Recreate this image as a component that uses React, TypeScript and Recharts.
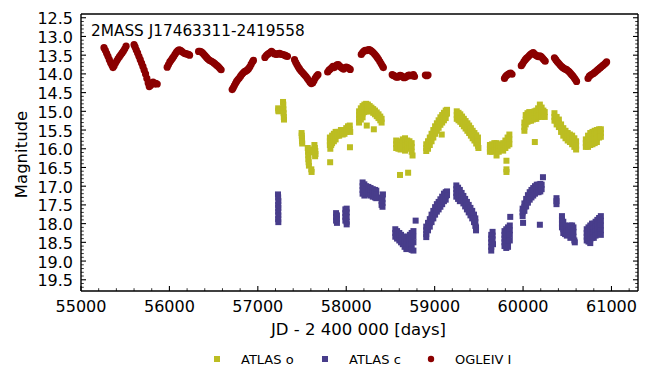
import { Label, Scatter, ScatterChart, XAxis, YAxis } from "recharts";

// axis ranges and ticks (JD - 2400000, magnitude)
const X_DOMAIN: [number, number] = [55000, 61300];
const Y_DOMAIN: [number, number] = [12.4, 19.8];
const X_MAJOR = [55000, 56000, 57000, 58000, 59000, 60000, 61000];
const X_MINOR = [
  55200, 55400, 55600, 55800, 56200, 56400, 56600, 56800, 57200, 57400, 57600, 57800, 58200,
  58400, 58600, 58800, 59200, 59400, 59600, 59800, 60200, 60400, 60600, 60800, 61200,
];
const Y_MAJOR = [12.5, 13, 13.5, 14, 14.5, 15, 15.5, 16, 16.5, 17, 17.5, 18, 18.5, 19, 19.5];
const Y_MINOR = [
  12.6, 12.7, 12.8, 12.9, 13.1, 13.2, 13.3, 13.4, 13.6, 13.7, 13.8, 13.9, 14.1, 14.2, 14.3, 14.4,
  14.6, 14.7, 14.8, 14.9, 15.1, 15.2, 15.3, 15.4, 15.6, 15.7, 15.8, 15.9, 16.1, 16.2, 16.3, 16.4,
  16.6, 16.7, 16.8, 16.9, 17.1, 17.2, 17.3, 17.4, 17.6, 17.7, 17.8, 17.9, 18.1, 18.2, 18.3, 18.4,
  18.6, 18.7, 18.8, 18.9, 19.1, 19.2, 19.3, 19.4, 19.6, 19.7,
];

// OGLE-IV I band, [jd, mag]
const OGLE_I: [number, number][] = [
  [55260, 13.3], [55275, 13.37], [55290, 13.45], [55305, 13.53], [55320, 13.62], [55335, 13.7],
  [55350, 13.77], [55362, 13.83], [55375, 13.78], [55390, 13.71], [55405, 13.65], [55420, 13.59],
  [55435, 13.54], [55450, 13.49], [55465, 13.44], [55480, 13.39], [55495, 13.33], [55510, 13.26],
  [55600, 13.22], [55612, 13.28], [55625, 13.36], [55640, 13.44], [55655, 13.53], [55670, 13.62],
  [55685, 13.71], [55700, 13.8], [55715, 13.9], [55730, 14.0], [55745, 14.12], [55760, 14.24],
  [55772, 14.34], [55785, 14.31], [55800, 14.24], [55815, 14.22], [55830, 14.27], [55845, 14.25],
  [55862, 14.27],
  [55975, 13.82], [55990, 13.75], [56005, 13.68], [56020, 13.63], [56035, 13.58], [56050, 13.53],
  [56065, 13.47], [56080, 13.42], [56095, 13.38], [56110, 13.36], [56125, 13.37], [56140, 13.4],
  [56155, 13.43], [56170, 13.45], [56185, 13.46], [56200, 13.47], [56215, 13.48], [56228, 13.5],
  [56330, 13.4], [56345, 13.4], [56360, 13.41], [56375, 13.44], [56390, 13.48], [56405, 13.52],
  [56420, 13.56], [56435, 13.6], [56450, 13.63], [56465, 13.65], [56480, 13.67], [56495, 13.69],
  [56510, 13.72], [56525, 13.75], [56540, 13.78], [56555, 13.81], [56570, 13.85], [56585, 13.89],
  [56710, 14.42], [56722, 14.37], [56735, 14.31], [56748, 14.25], [56760, 14.2], [56775, 14.15],
  [56790, 14.11], [56805, 14.06], [56820, 14.01], [56835, 13.97], [56850, 13.94], [56865, 13.92],
  [56880, 13.9], [56895, 13.86], [56910, 13.81], [56925, 13.74], [56940, 13.68], [56950, 13.64],
  [57080, 13.56], [57095, 13.51], [57110, 13.48], [57125, 13.45], [57140, 13.43], [57155, 13.4],
  [57170, 13.43], [57185, 13.46], [57200, 13.47], [57215, 13.48], [57230, 13.46], [57245, 13.45],
  [57260, 13.47], [57275, 13.48], [57290, 13.49], [57305, 13.5], [57320, 13.52], [57335, 13.53],
  [57415, 13.62], [57428, 13.69], [57442, 13.75], [57456, 13.81], [57470, 13.86], [57485, 13.91],
  [57500, 13.95], [57515, 13.99], [57530, 14.03], [57545, 14.07], [57560, 14.12], [57575, 14.17],
  [57590, 14.22], [57605, 14.26], [57620, 14.24], [57635, 14.18], [57650, 14.11], [57665, 14.06],
  [57680, 14.02],
  [57790, 13.95], [57805, 13.9], [57820, 13.87], [57835, 13.84], [57850, 13.8], [57865, 13.83],
  [57880, 13.79], [57895, 13.76], [57910, 13.75], [57925, 13.79], [57940, 13.82], [57955, 13.85],
  [57970, 13.87], [57985, 13.84], [58000, 13.82], [58015, 13.83], [58030, 13.85], [58045, 13.88],
  [58170, 13.48], [58185, 13.43], [58200, 13.39], [58215, 13.37], [58230, 13.38], [58245, 13.36],
  [58260, 13.35], [58275, 13.37], [58290, 13.4], [58305, 13.43], [58320, 13.47], [58335, 13.51],
  [58350, 13.56], [58365, 13.61], [58380, 13.67], [58395, 13.73], [58410, 13.79], [58420, 13.83],
  [58520, 14.02], [58535, 14.04], [58550, 14.06], [58565, 14.08], [58580, 14.09], [58595, 14.06],
  [58610, 14.04], [58625, 14.05], [58640, 14.08], [58655, 14.1], [58670, 14.09], [58685, 14.07],
  [58700, 14.04], [58715, 14.03], [58730, 14.05], [58745, 14.04], [58760, 14.02], [58772, 14.07],
  [58895, 14.03], [58910, 14.05], [58925, 14.03],
  [59790, 14.12], [59802, 14.07], [59815, 14.04], [59830, 14.01], [59845, 13.99], [59860, 13.98],
  [59875, 14.01],
  [59980, 13.78], [59995, 13.73], [60010, 13.67], [60025, 13.62], [60040, 13.58], [60055, 13.55],
  [60070, 13.51], [60085, 13.48], [60100, 13.45], [60115, 13.43], [60130, 13.47], [60145, 13.5],
  [60160, 13.52], [60175, 13.54], [60190, 13.52], [60205, 13.54], [60220, 13.58], [60235, 13.62],
  [60250, 13.66],
  [60355, 13.57], [60370, 13.62], [60385, 13.67], [60400, 13.71], [60415, 13.75], [60430, 13.79],
  [60445, 13.82], [60460, 13.85], [60475, 13.87], [60490, 13.88], [60505, 13.91], [60520, 13.94],
  [60535, 13.98], [60550, 14.02], [60565, 14.06], [60580, 14.11], [60592, 14.15], [60605, 14.2],
  [60735, 14.12], [60750, 14.06], [60765, 14.03], [60780, 14.01], [60795, 13.99], [60810, 13.96],
  [60825, 13.93], [60840, 13.9], [60855, 13.87], [60870, 13.84], [60885, 13.81], [60900, 13.78],
  [60915, 13.75], [60930, 13.72], [60945, 13.68],
];

// ATLAS orange filter, [jd, mag]
const ATLAS_O: [number, number][] = [
  [57230, 14.92], [57232, 14.98], [57236, 15.0], [57285, 14.75], [57288, 14.82], [57290, 14.95],
  [57292, 15.05], [57294, 15.15], [57296, 15.22],
  [57495, 15.58], [57497, 15.65], [57499, 15.72], [57500, 15.8], [57502, 15.86],
  [57565, 15.98], [57568, 16.08], [57570, 16.18], [57572, 16.28], [57575, 16.36], [57578, 16.45],
  [57605, 16.55], [57608, 16.62], [57600, 16.02], [57640, 15.9], [57645, 15.98], [57650, 16.06],
  [57652, 16.14], [57648, 16.2], [57630, 16.1],
  [57815, 15.7], [57815, 15.8], [57815, 15.9], [57820, 16.0], [57840, 15.65], [57840, 15.75],
  [57840, 15.85], [57860, 15.6], [57860, 15.7], [57860, 15.8], [57880, 15.55], [57880, 15.65],
  [57880, 15.75], [57900, 15.55], [57900, 15.65], [57920, 15.55], [57920, 15.65], [57940, 15.6],
  [57940, 15.5], [57960, 15.52], [57960, 15.62], [57980, 15.5], [57980, 15.6], [58000, 15.45],
  [58000, 15.55], [58020, 15.4], [58020, 15.5], [58040, 15.38], [58040, 15.48], [58045, 15.55],
  [57818, 16.36], [58042, 15.96], [57830, 15.9],
  [58145, 15.0], [58145, 15.1], [58145, 15.2], [58145, 15.3], [58165, 14.92], [58165, 15.02],
  [58165, 15.12], [58165, 15.22], [58185, 14.86], [58185, 14.96], [58185, 15.06], [58185, 15.16],
  [58205, 14.82], [58205, 14.92], [58205, 15.02], [58225, 14.8], [58225, 14.9], [58225, 15.0],
  [58245, 14.82], [58245, 14.92], [58245, 15.0], [58265, 14.86], [58265, 14.96], [58285, 14.9],
  [58285, 15.0], [58305, 14.94], [58305, 15.04], [58325, 14.98], [58325, 15.08], [58345, 15.03],
  [58345, 15.13], [58365, 15.08], [58365, 15.18], [58385, 15.14], [58385, 15.24], [58400, 15.2],
  [58400, 15.3], [58232, 15.38], [58312, 15.48],
  [58565, 15.78], [58565, 15.88], [58565, 15.98], [58590, 15.8], [58590, 15.9], [58590, 16.0],
  [58615, 15.82], [58615, 15.92], [58615, 16.02], [58640, 15.75], [58640, 15.85], [58640, 15.95],
  [58665, 15.72], [58665, 15.82], [58665, 15.92], [58665, 16.05], [58690, 15.78], [58690, 15.88],
  [58690, 15.98], [58715, 15.8], [58715, 15.9], [58715, 16.0], [58740, 15.85], [58740, 15.95],
  [58740, 16.08], [58750, 16.18], [58608, 16.7], [58700, 16.64],
  [58905, 15.88], [58905, 15.98], [58905, 16.06], [58925, 15.8], [58925, 15.9], [58925, 16.0],
  [58945, 15.7], [58945, 15.8], [58945, 15.9], [58965, 15.6], [58965, 15.7], [58965, 15.8],
  [58985, 15.5], [58985, 15.6], [58985, 15.7], [59005, 15.4], [59005, 15.5], [59005, 15.6],
  [59025, 15.32], [59025, 15.42], [59025, 15.52], [59045, 15.24], [59045, 15.34], [59045, 15.44],
  [59065, 15.16], [59065, 15.26], [59065, 15.36], [59085, 15.1], [59085, 15.2], [59085, 15.3],
  [59105, 15.04], [59105, 15.14], [59105, 15.24], [59125, 14.98], [59125, 15.08], [59125, 15.18],
  [59140, 14.96], [59140, 15.06], [59080, 15.62],
  [59250, 15.0], [59250, 15.1], [59250, 15.2], [59270, 15.04], [59270, 15.14], [59270, 15.24],
  [59290, 15.08], [59290, 15.18], [59290, 15.28], [59310, 15.14], [59310, 15.24], [59310, 15.34],
  [59330, 15.2], [59330, 15.3], [59330, 15.4], [59350, 15.26], [59350, 15.36], [59350, 15.46],
  [59370, 15.32], [59370, 15.42], [59370, 15.52], [59390, 15.38], [59390, 15.48], [59390, 15.58],
  [59410, 15.45], [59410, 15.55], [59410, 15.65], [59430, 15.52], [59430, 15.62], [59430, 15.72],
  [59450, 15.58], [59450, 15.68], [59450, 15.78], [59470, 15.64], [59470, 15.74], [59470, 15.86],
  [59490, 15.7], [59490, 15.8], [59490, 15.92], [59495, 15.98],
  [59625, 15.9], [59625, 16.0], [59625, 16.08], [59650, 15.88], [59650, 15.98], [59650, 16.08],
  [59675, 15.85], [59675, 15.95], [59675, 16.05], [59700, 15.85], [59700, 15.95], [59700, 16.05],
  [59700, 16.18], [59725, 15.88], [59725, 15.98], [59725, 16.08], [59750, 15.9], [59750, 16.0],
  [59775, 15.85], [59775, 15.95], [59775, 16.05], [59800, 15.78], [59800, 15.88], [59800, 15.98],
  [59825, 15.7], [59825, 15.8], [59825, 15.92], [59845, 15.62], [59845, 15.75], [59845, 15.88],
  [59812, 16.32], [59812, 16.55], [59812, 16.62],
  [60015, 15.3], [60015, 15.42], [60015, 15.52], [60030, 15.1], [60030, 15.22], [60030, 15.35],
  [60050, 15.05], [60050, 15.15], [60050, 15.28], [60070, 15.02], [60070, 15.12], [60070, 15.25],
  [60090, 15.05], [60090, 15.15], [60090, 15.25], [60110, 15.02], [60110, 15.12], [60110, 15.22],
  [60130, 15.0], [60130, 15.1], [60130, 15.2], [60150, 14.98], [60150, 15.08], [60150, 15.2],
  [60170, 14.92], [60170, 15.02], [60170, 15.15], [60190, 14.82], [60190, 14.95], [60190, 15.1],
  [60210, 14.9], [60210, 15.02], [60210, 15.15], [60230, 14.98], [60230, 15.1], [60245, 15.02],
  [60245, 15.15], [60133, 15.82],
  [60355, 15.05], [60355, 15.15], [60355, 15.25], [60380, 15.15], [60380, 15.25], [60380, 15.35],
  [60405, 15.22], [60405, 15.32], [60405, 15.42], [60430, 15.35], [60430, 15.45], [60430, 15.55],
  [60455, 15.45], [60455, 15.55], [60455, 15.65], [60480, 15.52], [60480, 15.62], [60480, 15.72],
  [60505, 15.58], [60505, 15.68], [60505, 15.78], [60530, 15.62], [60530, 15.72], [60530, 15.82],
  [60555, 15.65], [60555, 15.75], [60555, 15.88], [60580, 15.72], [60580, 15.85], [60580, 15.95],
  [60600, 15.8], [60600, 15.92], [60600, 16.02],
  [60710, 15.75], [60710, 15.85], [60710, 15.95], [60735, 15.65], [60735, 15.75], [60735, 15.85],
  [60735, 15.95], [60760, 15.58], [60760, 15.68], [60760, 15.78], [60760, 15.9], [60785, 15.55],
  [60785, 15.65], [60785, 15.75], [60785, 15.88], [60810, 15.52], [60810, 15.62], [60810, 15.72],
  [60810, 15.85], [60835, 15.5], [60835, 15.6], [60835, 15.72], [60835, 15.82], [60860, 15.48],
  [60860, 15.58], [60860, 15.7], [60880, 15.48], [60880, 15.58], [60880, 15.68],
];

// ATLAS cyan filter, [jd, mag]
const ATLAS_C: [number, number][] = [
  [57228, 17.22], [57230, 17.3], [57232, 17.4], [57230, 17.5], [57232, 17.58], [57230, 17.68],
  [57232, 17.78], [57230, 17.88], [57232, 17.96],
  [57885, 17.72], [57885, 17.82], [57885, 17.92], [57895, 17.78], [57895, 17.88], [57895, 17.98],
  [57990, 17.62], [57990, 17.72], [57990, 17.82], [57990, 17.92], [58005, 17.6], [58005, 17.7],
  [58005, 17.82], [58005, 17.95], [58005, 18.02],
  [58185, 16.9], [58185, 17.0], [58185, 17.1], [58185, 17.2], [58205, 16.95], [58205, 17.05],
  [58205, 17.15], [58205, 17.25], [58225, 17.0], [58225, 17.1], [58225, 17.2], [58250, 17.02],
  [58250, 17.12], [58250, 17.22], [58275, 17.05], [58275, 17.15], [58275, 17.25], [58300, 17.08],
  [58300, 17.18], [58300, 17.28], [58325, 17.1], [58325, 17.2], [58325, 17.3], [58340, 17.12],
  [58340, 17.22], [58340, 17.32], [58400, 17.3], [58400, 17.4], [58400, 17.5], [58410, 17.35],
  [58410, 17.45], [58410, 17.55], [58415, 17.22],
  [58555, 18.15], [58555, 18.25], [58555, 18.35], [58575, 18.2], [58575, 18.3], [58575, 18.4],
  [58600, 18.25], [58600, 18.35], [58600, 18.45], [58620, 18.3], [58620, 18.4], [58620, 18.5],
  [58640, 18.35], [58640, 18.45], [58640, 18.55], [58660, 18.35], [58660, 18.5], [58660, 18.62],
  [58680, 18.4], [58680, 18.55], [58680, 18.68], [58700, 18.35], [58700, 18.48], [58700, 18.6],
  [58720, 18.3], [58720, 18.42], [58720, 18.55], [58740, 18.25], [58740, 18.4], [58740, 18.55],
  [58740, 18.7], [58760, 18.2], [58760, 18.35], [58760, 18.5], [58760, 18.72], [58785, 17.92],
  [58905, 18.08], [58905, 18.18], [58905, 18.28], [58905, 18.36], [58925, 17.98], [58925, 18.08],
  [58925, 18.18], [58945, 17.88], [58945, 17.98], [58945, 18.08], [58965, 17.76], [58965, 17.86],
  [58965, 17.96], [58985, 17.66], [58985, 17.76], [58985, 17.86], [59005, 17.56], [59005, 17.66],
  [59005, 17.76], [59025, 17.48], [59025, 17.58], [59025, 17.68], [59045, 17.42], [59045, 17.52],
  [59045, 17.62], [59065, 17.35], [59065, 17.45], [59065, 17.55], [59085, 17.28], [59085, 17.38],
  [59085, 17.48], [59105, 17.2], [59105, 17.3], [59105, 17.4], [59125, 17.16], [59125, 17.26],
  [59125, 17.36], [59140, 17.14], [59140, 17.24],
  [59245, 16.98], [59245, 17.08], [59245, 17.18], [59245, 17.28], [59265, 17.04], [59265, 17.14],
  [59265, 17.24], [59265, 17.34], [59285, 17.1], [59285, 17.2], [59285, 17.3], [59285, 17.4],
  [59305, 17.18], [59305, 17.28], [59305, 17.38], [59325, 17.26], [59325, 17.36], [59325, 17.46],
  [59345, 17.34], [59345, 17.44], [59345, 17.54], [59365, 17.42], [59365, 17.52], [59365, 17.62],
  [59385, 17.5], [59385, 17.6], [59385, 17.7], [59405, 17.58], [59405, 17.68], [59405, 17.78],
  [59425, 17.66], [59425, 17.76], [59425, 17.86], [59445, 17.76], [59445, 17.86], [59445, 17.96],
  [59460, 17.86], [59460, 17.96], [59460, 18.06], [59468, 18.1], [59468, 18.18],
  [59640, 18.3], [59640, 18.4], [59640, 18.5], [59640, 18.62], [59640, 18.72], [59655, 18.22],
  [59655, 18.32], [59655, 18.42], [59660, 18.55],
  [59790, 18.2], [59790, 18.3], [59790, 18.4], [59790, 18.5], [59790, 18.6], [59810, 18.15],
  [59810, 18.28], [59810, 18.4], [59810, 18.52], [59810, 18.65], [59830, 18.1], [59830, 18.22],
  [59830, 18.35], [59830, 18.48], [59830, 18.62], [59850, 18.05], [59850, 18.18], [59850, 18.3],
  [59850, 18.45], [59855, 17.82],
  [59995, 17.6], [59995, 17.7], [59995, 17.8], [60000, 17.98], [60015, 17.46], [60015, 17.56],
  [60015, 17.66], [60035, 17.34], [60035, 17.44], [60035, 17.54], [60055, 17.24], [60055, 17.34],
  [60055, 17.44], [60075, 17.16], [60075, 17.26], [60075, 17.36], [60095, 17.1], [60095, 17.2],
  [60095, 17.3], [60115, 17.05], [60115, 17.15], [60115, 17.25], [60135, 17.0], [60135, 17.1],
  [60135, 17.2], [60155, 16.96], [60155, 17.06], [60155, 17.16], [60175, 16.96], [60175, 17.06],
  [60175, 17.16], [60195, 16.94], [60195, 17.04], [60195, 17.14], [60210, 16.96], [60210, 17.08],
  [60225, 16.76], [60190, 18.03],
  [60378, 17.32], [60378, 17.4], [60378, 17.48],
  [60440, 17.8], [60440, 17.9], [60440, 18.0], [60440, 18.1], [60455, 17.95], [60455, 18.05],
  [60455, 18.15], [60455, 18.25], [60475, 18.05], [60475, 18.15], [60475, 18.28], [60495, 18.1],
  [60495, 18.2], [60495, 18.32], [60515, 18.08], [60515, 18.18], [60515, 18.28], [60535, 18.05],
  [60535, 18.15], [60535, 18.25], [60535, 18.38], [60555, 18.05], [60555, 18.15], [60555, 18.28],
  [60570, 18.1], [60570, 18.22], [60570, 18.35], [60580, 18.45], [60585, 18.5],
  [60720, 18.15], [60720, 18.25], [60720, 18.35], [60720, 18.45], [60740, 18.1], [60740, 18.22],
  [60740, 18.35], [60740, 18.48], [60760, 18.05], [60760, 18.18], [60760, 18.3], [60760, 18.42],
  [60760, 18.52], [60780, 18.0], [60780, 18.12], [60780, 18.25], [60780, 18.38], [60800, 18.0],
  [60800, 18.12], [60800, 18.25], [60800, 18.38], [60820, 17.95], [60820, 18.08], [60820, 18.2],
  [60820, 18.32], [60840, 17.9], [60840, 18.02], [60840, 18.15], [60840, 18.28], [60860, 17.85],
  [60860, 17.98], [60860, 18.1], [60860, 18.25], [60880, 17.8], [60880, 17.92], [60880, 18.05],
  [60880, 18.18], [60880, 18.3],
];

const OLIVE = "#bcbd22";
const SLATE = "#483d8b";
const DARKRED = "#8b0000";
const FONT = "'DejaVu Sans', sans-serif";

const toPoints = (rows: [number, number][]) => rows.map(([x, y]) => ({ x, y }));

type Side = "bottom" | "top" | "left" | "right";

/** matplotlib-style inward tick, with a label only on bottom/left majors. */
function InTick(props: any) {
  const { x, y, payload, side, majors } = props as {
    x: number;
    y: number;
    payload: { value: number };
    side: Side;
    majors: number[];
  };
  const major = majors.includes(payload.value);
  const len = major ? 5 : 2.8;
  const sw = major ? 1.1 : 0.8;
  let line;
  if (side === "bottom") line = <line x1={x} y1={y} x2={x} y2={y - len} />;
  else if (side === "top") line = <line x1={x} y1={y} x2={x} y2={y + len} />;
  else if (side === "left") line = <line x1={x} y1={y} x2={x + len} y2={y} />;
  else line = <line x1={x} y1={y} x2={x - len} y2={y} />;

  let text = null;
  if (major && side === "bottom") {
    text = (
      <text x={x} y={y + 21} textAnchor="middle" fontSize={16} fill="#000" stroke="none">
        {payload.value}
      </text>
    );
  } else if (major && side === "left") {
    text = (
      <text x={x - 8} y={y + 1} textAnchor="end" dominantBaseline="central" fontSize={16} fill="#000" stroke="none">
        {payload.value.toFixed(1)}
      </text>
    );
  }
  return (
    <g stroke="#000" strokeWidth={sw} fontFamily={FONT}>
      {line}
      {text}
    </g>
  );
}

const squareShape = (color: string) => (p: any) => (
  <rect x={p.cx - 3} y={p.cy - 3} width={6} height={6} fill={color} />
);
const dotShape = (p: any) => <circle cx={p.cx} cy={p.cy} r={3.6} fill={DARKRED} />;

const axisLine = { stroke: "#000", strokeWidth: 1.4 };

function ChartLegend() {
  return (
    <svg width={650} height={40} style={{ position: "absolute", left: 0, top: 340 }} fontFamily={FONT}>
      <rect x={214} y={16} width={6} height={6} fill={OLIVE} />
      <text x={241} y={23.5} fontSize={13} fill="#000">ATLAS o</text>
      <rect x={322} y={16} width={6} height={6} fill={SLATE} />
      <text x={349} y={23.5} fontSize={13} fill="#000">ATLAS c</text>
      <circle cx={431} cy={19} r={3.2} fill={DARKRED} />
      <text x={455} y={23.5} fontSize={13} fill="#000">OGLEIV I</text>
    </svg>
  );
}

export default function App() {
  return (
    <div style={{ position: "absolute", left: 0, top: 0, width: 650, height: 383, background: "#fff" }}>
      <ScatterChart width={650} height={383} margin={{ top: 13, right: 11, bottom: 0, left: 0 }}>
        <XAxis
          xAxisId="main"
          type="number"
          dataKey="x"
          domain={X_DOMAIN}
          allowDataOverflow
          ticks={[...X_MAJOR, ...X_MINOR]}
          interval={0}
          height={92}
          tickSize={0}
          tickMargin={0}
          tickLine={false}
          axisLine={axisLine}
          tick={(p: any) => <InTick {...p} side="bottom" majors={X_MAJOR} />}
        >
          <Label
            content={(lp: any) => {
              const vb = lp.viewBox;
              return (
                <text
                  x={vb.x + vb.width / 2 - 1}
                  y={vb.y + 43.5}
                  textAnchor="middle"
                  fontSize={16.5}
                  fontFamily={FONT}
                  fill="#000"
                >
                  JD - 2 400 000 [days]
                </text>
              );
            }}
          />
        </XAxis>
        <XAxis
          xAxisId="top"
          orientation="top"
          type="number"
          domain={X_DOMAIN}
          allowDataOverflow
          ticks={[...X_MAJOR, ...X_MINOR]}
          interval={0}
          height={1}
          tickSize={0}
          tickMargin={0}
          tickLine={false}
          axisLine={axisLine}
          tick={(p: any) => <InTick {...p} side="top" majors={X_MAJOR} />}
        >
          <Label
            content={(lp: any) => {
              const vb = lp.viewBox;
              return (
                <text x={vb.x + 10} y={vb.y + 23} fontSize={15.3} fontFamily={FONT} fill="#000">
                  2MASS J17463311-2419558
                </text>
              );
            }}
          />
        </XAxis>
        <YAxis
          yAxisId="main"
          type="number"
          dataKey="y"
          reversed
          domain={Y_DOMAIN}
          allowDataOverflow
          ticks={[...Y_MAJOR, ...Y_MINOR]}
          interval={0}
          width={81}
          tickSize={0}
          tickMargin={0}
          tickLine={false}
          axisLine={axisLine}
          tick={(p: any) => <InTick {...p} side="left" majors={Y_MAJOR} />}
        >
          <Label
            content={(lp: any) => {
              const vb = lp.viewBox;
              const cx = 27;
              const cy = vb.y + vb.height / 2 + 2;
              return (
                <text
                  x={cx}
                  y={cy}
                  transform={`rotate(-90 ${cx} ${cy})`}
                  textAnchor="middle"
                  fontSize={16.5}
                  fontFamily={FONT}
                  fill="#000"
                >
                  Magnitude
                </text>
              );
            }}
          />
        </YAxis>
        <YAxis
          yAxisId="right"
          orientation="right"
          type="number"
          reversed
          domain={Y_DOMAIN}
          allowDataOverflow
          ticks={[...Y_MAJOR, ...Y_MINOR]}
          interval={0}
          width={1}
          tickSize={0}
          tickMargin={0}
          tickLine={false}
          axisLine={axisLine}
          tick={(p: any) => <InTick {...p} side="right" majors={Y_MAJOR} />}
        />
        <Scatter
          name="ATLAS o"
          xAxisId="main"
          yAxisId="main"
          data={toPoints(ATLAS_O)}
          shape={squareShape(OLIVE)}
          isAnimationActive={false}
        />
        <Scatter
          name="ATLAS c"
          xAxisId="main"
          yAxisId="main"
          data={toPoints(ATLAS_C)}
          shape={squareShape(SLATE)}
          isAnimationActive={false}
        />
        <Scatter
          name="OGLEIV I"
          xAxisId="main"
          yAxisId="main"
          data={toPoints(OGLE_I)}
          shape={dotShape}
          isAnimationActive={false}
        />
      </ScatterChart>
      <ChartLegend />
    </div>
  );
}
